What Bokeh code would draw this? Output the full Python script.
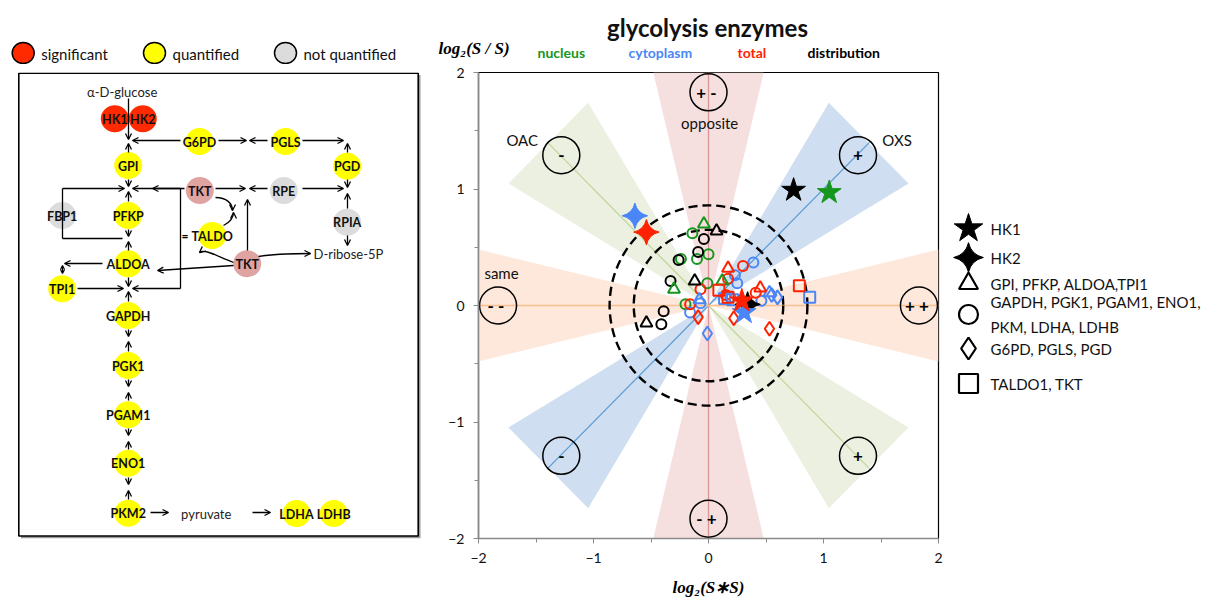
import math
from bokeh.plotting import figure
from bokeh.models import Range1d, Arrow, OpenHead, ColumnDataSource, FixedTicker
from bokeh.layouts import row, column
from bokeh.embed import file_html
from bokeh.resources import INLINE
from bokeh.core.properties import value

FONT = "Lato"
SERIF = "Liberation Serif"

# ------------------------------------------------------------------ data
comp_colors = {"nucleus": "#16961c", "cytoplasm": "#4a86f7",
               "total": "#ff2200", "distribution": "#000000"}
draw_order = ["nucleus", "distribution", "cytoplasm", "total"]

# HK1 (5-point star)
hk1_x = [0.74, 1.05, 0.29, 0.31]
hk1_y = [0.99, 0.97, 0.04, -0.06]
hk1_g = ["distribution", "nucleus", "total", "cytoplasm"]

# HK2 (4-point star)
hk2_x = [-0.64, -0.54, 0.34]
hk2_y = [0.77, 0.63, 0.01]
hk2_g = ["cytoplasm", "total", "distribution"]

# GPI, PFKP, ALDOA, TPI1 (triangle)
tri_x = [-0.04, -0.30, 0.12, 0.07, -0.12, -0.54, -0.08, 0.53, 0.17, 0.45]
tri_y = [0.70, 0.14, 0.21, 0.64, 0.21, -0.15, 0.05, 0.11, 0.32, 0.15]
tri_g = ["nucleus", "nucleus", "nucleus", "distribution", "distribution", "distribution",
         "cytoplasm", "cytoplasm", "total", "total"]

# GAPDH, PGK1, PGAM1, ENO1, PKM, LDHA, LDHB (circle)
cir_x = [-0.14, 0.00, -0.10, -0.24, -0.01, -0.20,
         -0.04, -0.09, -0.26, -0.33, -0.39, -0.41,
         -0.16, -0.07, 0.39, 0.25, 0.46, 0.19, 0.23,
         -0.07, -0.16, 0.30, 0.17, 0.41, 0.15]
cir_y = [0.62, 0.44, 0.40, 0.40, 0.19, 0.01,
         0.57, 0.46, 0.39, 0.21, -0.05, -0.16,
         -0.06, 0.02, 0.37, 0.19, 0.04, 0.07, 0.26,
         0.14, 0.01, 0.34, 0.23, 0.11, 0.09]
cir_g = ["nucleus"] * 6 + ["distribution"] * 6 + ["cytoplasm"] * 7 + ["total"] * 6

# G6PD, PGLS, PGD (diamond)
dia_x = [-0.01, 0.55, 0.60, -0.09, 0.22, 0.53]
dia_y = [-0.24, 0.09, 0.07, -0.10, -0.11, -0.20]
dia_g = ["cytoplasm"] * 3 + ["total"] * 3

# TALDO1, TKT (square)
sq_x = [0.88, 0.14, 0.21, 0.79, 0.09, 0.17]
sq_y = [0.07, 0.06, 0.05, 0.17, 0.13, 0.07]
sq_g = ["cytoplasm"] * 3 + ["total"] * 3

ticks = [-2, -1, 0, 1, 2]
minor = [-1.5, -0.5, 0.5, 1.5]

legend_labels = ["HK1", "HK2", "GPI, PFKP, ALDOA,TPI1",
                 "GAPDH, PGK1, PGAM1, ENO1,\nPKM, LDHA, LDHB",
                 "G6PD, PGLS, PGD", "TALDO1, TKT"]
legend_markers = ["star", "square_pin", "triangle", "circle", "diamond", "square"]

head_words = ["nucleus", "cytoplasm", "total", "distribution"]

TOP_H = 64          # header strip height
ROW_TOP = 8         # border above the plot frames
FRAME_H = 466
BOTTOM = 62
ROW_H = ROW_TOP + FRAME_H + BOTTOM
F_TOP = TOP_H + ROW_TOP           # 72 (page pixel of frame top)
F_BOT = F_TOP + FRAME_H           # 538


def blank(width, height, xr, yr, **kw):
    f = figure(width=width, height=height, x_range=xr, y_range=yr, output_backend="svg",
               toolbar_location=None, x_axis_type=None, y_axis_type=None, **kw)
    f.grid.visible = False
    f.outline_line_color = None
    f.title.visible = False
    return f


# ------------------------------------------------------------------ header strip
T = blank(1217, TOP_H, Range1d(0, 1217), Range1d(TOP_H, 0), min_border=0)
key_x = [22.7, 154, 285]
key_c = ["#ff2a00", "#ffff00", "#dcdcdc"]
key_t = ["significant", "quantified", "not quantified"]
T.ellipse(key_x, [52.5] * 3, width=22, height=21, fill_color=key_c, line_color="black",
          line_width=1.5)
T.text([x + 18 for x in key_x], [53] * 3, text=key_t, text_align="left",
       text_baseline="middle", text_font=value(FONT), text_font_size="15px", text_color="#111111")
T.text([707], [27], text=["glycolysis enzymes"], text_align="center", text_baseline="alphabetic",
       text_font=value(FONT), text_font_size="24px", text_font_style="bold", text_color="#111111")
T.text([438], [48], text=["log₂(S / S)"], text_align="left", text_baseline="alphabetic",
       text_font=value(SERIF), text_font_size="17px", text_font_style="bold italic",
       text_color="black")
T.text([537, 628, 737, 807], [51.5] * 4, text=head_words, text_align="left",
       text_baseline="alphabetic", text_font=value(FONT), text_font_size="14px",
       text_font_style="bold", text_color=[comp_colors[w] for w in head_words])

# ------------------------------------------------------------------ scatter figure
p = figure(width=519, height=ROW_H, x_range=Range1d(-2, 2), y_range=Range1d(-2, 2),
           output_backend="svg", toolbar_location=None,
           min_border_left=52, min_border_right=7, min_border_top=ROW_TOP,
           min_border_bottom=BOTTOM)
p.title.visible = False
p.grid.visible = False
p.outline_line_color = "black"
p.outline_line_width = 1.2
for ax in (p.xaxis[0], p.yaxis[0]):
    ax.ticker = FixedTicker(ticks=ticks, minor_ticks=minor)
    ax.axis_line_color = "#8a8a8a"
    ax.axis_line_width = 1.6
    ax.major_tick_line_color = "#8a8a8a"
    ax.minor_tick_line_color = "#8a8a8a"
    ax.major_tick_in = 0
    ax.major_tick_out = 5
    ax.minor_tick_in = 0
    ax.minor_tick_out = 4
    ax.major_label_text_font = FONT
    ax.major_label_text_font_size = "14px"
    ax.major_label_text_color = "#111111"
p.xaxis.major_label_standoff = 9
p.yaxis.major_label_standoff = 9
p.xaxis.axis_label = "log₂(S∗S)"
p.xaxis.axis_label_text_font = SERIF
p.xaxis.axis_label_text_font_size = "17px"
p.xaxis.axis_label_text_font_style = "bold italic"
p.xaxis.axis_label_text_color = "black"
p.xaxis.axis_label_standoff = 12

# shaded sectors
sector_angles = [45, 225, 135, 315, 90, 270, 180, 0]
sector_colors = ["#cfdff1", "#cfdff1", "#ebf0e1", "#ebf0e1",
                 "#f5dfdf", "#f5dfdf", "#fde8db", "#fde8db"]
sector_len = [1.97] * 4 + [2.0] * 4
sector_half = [0.49] * 4 + [0.48] * 4
sxs, sys_ = [], []
for a, Ls, h in zip(sector_angles, sector_len, sector_half):
    t = math.radians(a)
    dx, dy = math.cos(t), math.sin(t)
    nx, ny = -dy, dx
    sxs.append([0, Ls * dx + h * nx, Ls * dx - h * nx])
    sys_.append([0, Ls * dy + h * ny, Ls * dy - h * ny])
p.patches(sxs, sys_, fill_color=sector_colors, line_color=None)

p.segment(x0=[-1.4, -1.4, 0, -2], y0=[-1.4, 1.4, -2, 0],
          x1=[1.4, 1.4, 0, 2], y1=[1.4, -1.4, 2, 0],
          line_color=["#5b9bd5", "#c3d69b", "#d99694", "#fac090"], line_width=1.3)

ring_r = [0.86, 0.65]
p.ellipse(x=[0, 0], y=[0, 0], width=[2 * r for r in ring_r], height=[2 * r for r in ring_r],
          fill_color=None, line_color="black", line_width=2.4, line_dash="9 5")

sym_x = [1.30, -1.28, -1.28, 1.30, 0.0, 0.0, -1.83, 1.83]
sym_y = [1.29, 1.29, -1.29, -1.29, 1.83, -1.83, 0.0, 0.0]
sym_t = ["+", "-", "-", "+", "+  -", "-  +", "-  -", "+  +"]
p.scatter(sym_x, sym_y, marker="circle", size=37, fill_color=None,
          line_color="black", line_width=1.5)
p.text(sym_x, sym_y, text=sym_t, text_align="center", text_baseline="middle",
       text_font=value(FONT), text_font_size="17px", text_font_style="bold", text_color="black")

zone_x = [-1.62, 1.64, 0.01, -1.80]
zone_y = [1.42, 1.42, 1.57, 0.28]
zone_t = ["OAC", "OXS", "opposite", "same"]
p.text(zone_x, zone_y, text=zone_t, text_align="center", text_baseline="middle",
       text_font=value(FONT), text_font_size="15px", text_color="#111111")


def plot_group(xs, ys, gs, marker, size, filled=False, angle=0.0):
    for g in draw_order:
        px = [x for x, gg in zip(xs, gs) if gg == g]
        py = [y for y, gg in zip(ys, gs) if gg == g]
        if not px:
            continue
        c = comp_colors[g]
        if filled:
            p.scatter(px, py, marker=marker, size=size, fill_color=c, line_color=c,
                      line_width=1, angle=angle)
        else:
            p.scatter(px, py, marker=marker, size=size, fill_color=None, line_color=c,
                      line_width=2)


plot_group(cir_x, cir_y, cir_g, "circle", 10)
plot_group(tri_x, tri_y, tri_g, "triangle", 12)
plot_group(dia_x, dia_y, dia_g, "diamond", 14)
plot_group(sq_x, sq_y, sq_g, "square", 11)
plot_group(hk2_x, hk2_y, hk2_g, "square_pin", 18, filled=True, angle=math.pi / 4)
plot_group(hk1_x, hk1_y, hk1_g, "star", 25, filled=True)

# ------------------------------------------------------------------ pathway diagram
L = blank(426, ROW_H, Range1d(0, 426), Range1d(F_BOT, F_TOP),
          min_border_left=0, min_border_right=0, min_border_top=ROW_TOP, min_border_bottom=BOTTOM)

L.quad(left=[20.5], right=[420], top=[74.5], bottom=[538], fill_color="#9a9a9a", line_color=None)
L.quad(left=[18.3], right=[417.7], top=[72.8], bottom=[535.5], fill_color="white",
       line_color="black", line_width=1.6)

node_names = ["HK1", "HK2", "G6PD", "PGLS", "PGD", "GPI", "TKT", "RPE", "RPIA", "FBP1",
              "PFKP", "TALDO", "TKT", "ALDOA", "TPI1", "GAPDH", "PGK1", "PGAM1", "ENO1",
              "PKM2", "LDHA", "LDHB"]
node_x = [114.3, 142.3, 199, 285, 346.7, 127.7, 199.3, 283.3, 346.7, 61.7,
          127.7, 211.7, 246.7, 127.7, 61.7, 127.7, 127.7, 127.7, 127.7,
          127.7, 296, 333.3]
node_y = [118.3, 118.3, 141, 141, 165.7, 165, 190, 190, 221.7, 215,
          215, 235, 263.3, 263.3, 288.3, 315, 365, 414.3, 462.7,
          512.7, 513, 513]
node_state = ["sig", "sig", "q", "q", "q", "q", "tkt", "nq", "nq", "nq",
              "q", "q", "tkt", "q", "q", "q", "q", "q", "q", "q", "q", "q"]
state_col = {"sig": "#ff2a00", "q": "#ffff00", "nq": "#dcdcdc", "tkt": "#dfa3a1"}
L.ellipse(node_x, node_y, width=28, height=27,
          fill_color=[state_col[s] for s in node_state], line_color=None)
L.text(node_x, [y + 0.5 for y in node_y], text=node_names, text_align="center",
       text_baseline="middle", text_font=value(FONT), text_font_size="12.5px",
       text_font_style="bold", text_color="#111111")

L.text([121.7, 313, 205.7], [91, 253.5, 513.5], text=["α-D-glucose", "D-ribose-5P", "pyruvate"],
       text_align=["center", "left", "center"], text_baseline="middle",
       text_font=value(FONT), text_font_size="13px", text_color="#222222")
L.text([184.5], [235], text=["="], text_align="center", text_baseline="middle",
       text_font=value(FONT), text_font_size="12px", text_font_style="bold", text_color="black")

seg = [(180, 188, 180, 288), (62, 188, 62, 238), (62, 238, 122, 238)]
L.segment([s[0] for s in seg], [s[1] for s in seg], [s[2] for s in seg], [s[3] for s in seg],
          line_color="black", line_width=1.3)

arrows = [
    (128, 98, 128, 139), (128, 179, 128, 186), (128, 229, 128, 236), (128, 277, 128, 286),
    (128, 329, 128, 336), (128, 379, 128, 386), (128, 428, 128, 435), (128, 477, 128, 484),
    (128, 152, 128, 143), (128, 201, 128, 191), (128, 250, 128, 241), (128, 301, 128, 291),
    (128, 351, 128, 341), (128, 400, 128, 392), (128, 449, 128, 441), (128, 499, 128, 490),
    (180, 140, 132, 140), (218, 140, 246, 140), (267, 140, 249, 140), (302, 140, 343, 140),
    (347, 152, 347, 143), (347, 179, 347, 187), (347, 208, 347, 193), (347, 235, 347, 245),
    (302, 188, 343, 188), (267, 188, 249, 188), (215, 188, 245, 188), (184, 188, 152, 188),
    (180, 188, 132, 188), (180, 288, 132, 288), (62, 188, 124, 188),
    (102, 263, 64, 263), (77, 288, 123, 288), (247, 250, 247, 199), (233, 265, 157, 270),
    (150, 512, 168, 512), (252, 512, 270, 512),
]
asrc = ColumnDataSource(dict(x0=[a[0] for a in arrows], y0=[a[1] for a in arrows],
                             x1=[a[2] for a in arrows], y1=[a[3] for a in arrows]))
L.add_layout(Arrow(end=OpenHead(size=6, line_width=1.3, line_color="black"),
                   x_start="x0", y_start="y0", x_end="x1", y_end="y1", source=asrc,
                   line_width=1.3, line_color="black"))
L.add_layout(Arrow(start=OpenHead(size=4, line_width=1.2), end=OpenHead(size=4, line_width=1.2),
                   x_start=62, y_start=265, x_end=62, y_end=273, line_width=1.2))

curves = [  # x0, y0, cx0, cy0, cx1, cy1, x1, y1
    (215, 197, 226, 197, 232, 203, 232, 210),
    (223, 225, 229, 222, 233, 217, 233, 212),
    (258, 256, 275, 253, 295, 253, 310, 253),
    (233, 262, 215, 255, 204, 248, 199, 252),
]
L.bezier(x0=[c[0] for c in curves], y0=[c[1] for c in curves],
         cx0=[c[2] for c in curves], cy0=[c[3] for c in curves],
         cx1=[c[4] for c in curves], cy1=[c[5] for c in curves],
         x1=[c[6] for c in curves], y1=[c[7] for c in curves],
         line_color="black", line_width=1.3)
csrc = ColumnDataSource(dict(x0=[c[4] for c in curves], y0=[c[5] for c in curves],
                             x1=[c[6] for c in curves], y1=[c[7] for c in curves]))
L.add_layout(Arrow(end=OpenHead(size=6, line_width=1.3, line_color="black"),
                   x_start="x0", y_start="y0", x_end="x1", y_end="y1", source=csrc,
                   line_alpha=0))

# ------------------------------------------------------------------ legend panel
R = blank(272, ROW_H, Range1d(0, 272), Range1d(F_BOT, F_TOP),
          min_border_left=0, min_border_right=0, min_border_top=ROW_TOP, min_border_bottom=BOTTOM)
leg_y = [228, 257, 283, 314, 348, 383]
leg_size = [30, 21, 19, 19, 22, 19]
for m, yy, s in zip(legend_markers, leg_y, leg_size):
    if m in ("star", "square_pin"):
        R.scatter([23], [yy], marker=m, size=s, fill_color="black", line_color="black",
                  angle=(math.pi / 4 if m == "square_pin" else 0.0))
    else:
        R.scatter([23], [yy], marker=m, size=s, fill_color=None, line_color="black",
                  line_width=2.2)
R.text([45] * len(legend_labels), leg_y, text=legend_labels, text_align="left",
       text_baseline="middle", text_font=value(FONT), text_font_size="15px",
       text_color="#111111", text_line_height=1.35)

layout = column(T, row(L, p, R))
open("out.html", "w").write(file_html(layout, INLINE))
